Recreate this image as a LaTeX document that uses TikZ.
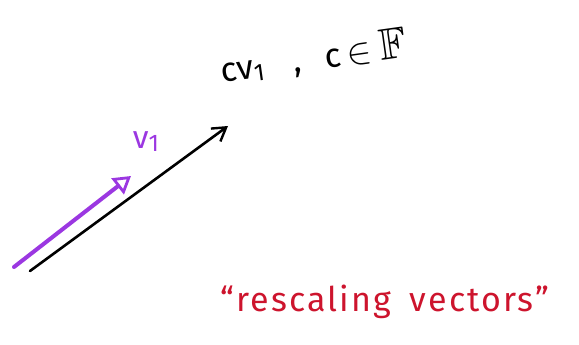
\documentclass[tikz,border=0pt]{standalone}
\usepackage{amssymb}
\usepackage{fontspec}
\setmainfont{Fira Sans}
\usetikzlibrary{arrows.meta}
\definecolor{vecpurple}{RGB}{155,55,225}
\definecolor{notered}{RGB}{205,20,45}
\newcommand{\subone}{\raisebox{-3pt}{\fontsize{24}{28}\selectfont 1}}
\tikzset{
  vecline/.style={line cap=round, line join=round},
  hand/.style={inner sep=0pt, font=\fontsize{34}{40}\selectfont}
}
\begin{document}
\begin{tikzpicture}[x=1pt,y=-1pt]
\useasboundingbox (0,0) rectangle (579,345);
% black vector (c v1)
\coordinate (b0) at (30,271);
\coordinate (b1) at (228,126);
\draw[vecline, line width=2.6pt, -{Straight Barb[length=13pt,width=16pt,line width=2.4pt]}] (b0) -- (b1);
% purple vector (v1)
\coordinate (p0) at (14,267);
\coordinate (p1) at (131,176);
\draw[vecline, vecpurple, line width=4pt, -{Triangle[open,length=17pt,width=20pt,line width=2.8pt]}] (p0) -- (p1);
% labels
\node[hand, vecpurple, font=\fontsize{32}{36}\selectfont] (v1) at (146,142) {v\subone};
\node[hand, rotate=8, anchor=base west] (cv) at (222,83) {cv\subone\hspace{30pt},\hspace{24pt}c\hspace{6pt}\scalebox{1.5}{$\in$}\hspace{8pt}\scalebox{1.3}{$\mathbb{F}$}};
\node[hand, notered, font=\fontsize{34}{40}\selectfont\addfontfeature{LetterSpace=6}] (rs) at (385,302) {``rescaling\hspace{8pt} vectors''};
\end{tikzpicture}
\end{document}
